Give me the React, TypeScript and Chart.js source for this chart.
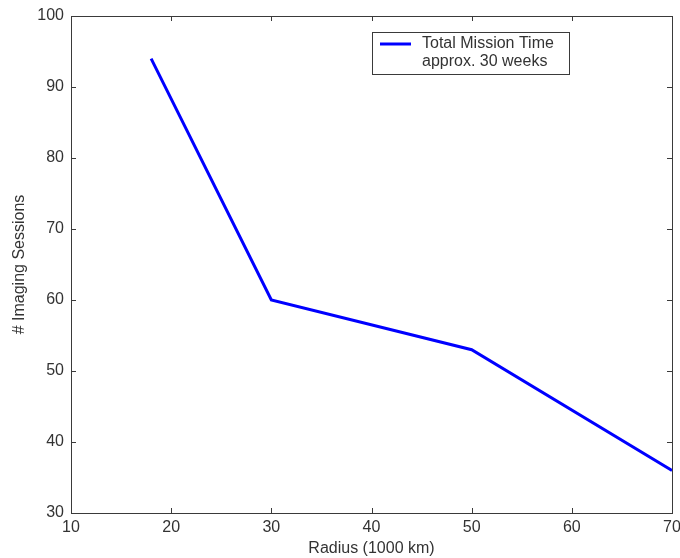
import React, { useEffect, useRef } from "react";
import { Chart, registerables } from "chart.js";

Chart.register(...registerables);

const radius = [18, 30, 50, 70];
const sessions = [94, 60, 53, 36];
const legendLines = ["Total Mission Time", "approx. 30 weeks"];
const xTitle = "Radius (1000 km)";
const yTitle = "# Imaging Sessions";

const FONT = "Arial, 'Liberation Sans', sans-serif";
const AXIS = "#3a3a3a";
const TEXT = "#333333";

const framePlugin = {
  id: "frame",
  afterDatasetsDraw(chart: any) {
    const { ctx, chartArea: a, scales } = chart;
    const tl = 5;
    ctx.save();
    ctx.strokeStyle = AXIS;
    ctx.lineWidth = 1;
    ctx.strokeRect(Math.round(a.left) + 0.5, Math.round(a.top) + 0.5, Math.round(a.right - a.left), Math.round(a.bottom - a.top));
    ctx.beginPath();
    scales.x.ticks.forEach((t: any) => {
      const px = Math.round(scales.x.getPixelForValue(t.value)) + 0.5;
      ctx.moveTo(px, a.bottom);
      ctx.lineTo(px, a.bottom - tl);
      ctx.moveTo(px, a.top);
      ctx.lineTo(px, a.top + tl);
    });
    scales.y.ticks.forEach((t: any) => {
      const py = Math.round(scales.y.getPixelForValue(t.value)) + 0.5;
      ctx.moveTo(a.left, py);
      ctx.lineTo(a.left + tl, py);
      ctx.moveTo(a.right, py);
      ctx.lineTo(a.right - tl, py);
    });
    ctx.stroke();
    ctx.restore();
  },
  afterDraw(chart: any) {
    const { ctx, chartArea: a } = chart;
    const bx = a.left + 301;
    const by = a.top + 16;
    const bw = 197;
    const bh = 42;
    ctx.save();
    ctx.fillStyle = "#ffffff";
    ctx.fillRect(bx, by, bw, bh);
    ctx.strokeStyle = AXIS;
    ctx.lineWidth = 1;
    ctx.strokeRect(Math.round(bx) + 0.5, Math.round(by) + 0.5, bw, bh);
    ctx.strokeStyle = "#0000ff";
    ctx.lineWidth = 3;
    ctx.beginPath();
    ctx.moveTo(bx + 8, by + 12);
    ctx.lineTo(bx + 39, by + 12);
    ctx.stroke();
    ctx.fillStyle = TEXT;
    ctx.font = `16px ${FONT}`;
    ctx.textBaseline = "middle";
    ctx.textAlign = "left";
    legendLines.forEach((s, i) => {
      ctx.fillText(s, bx + 50, by + 12 + i * 18);
    });
    ctx.restore();
  },
};

export default function App() {
  const ref = useRef<HTMLCanvasElement | null>(null);
  useEffect(() => {
    document.body.style.margin = "0";
    if (!ref.current) return;
    const chart = new Chart(ref.current, {
      type: "line",
      data: {
        datasets: [
          {
            label: legendLines.join(" "),
            data: radius.map((r, i) => ({ x: r, y: sessions[i] })),
            borderColor: "#0000ff",
            borderWidth: 3,
            pointRadius: 0,
            fill: false,
            tension: 0,
          },
        ],
      },
      options: {
        animation: false,
        responsive: false,
        layout: { padding: { top: 16, right: 8, bottom: 0, left: 0 } },
        plugins: { legend: { display: false }, tooltip: { enabled: false } },
        scales: {
          x: {
            type: "linear",
            min: 10,
            max: 70,
            grid: { display: false, drawTicks: false },
            border: { display: false },
            ticks: { stepSize: 10, color: TEXT, font: { family: FONT, size: 16 }, padding: 5, maxRotation: 0, autoSkip: false },
            title: { display: true, text: xTitle, color: TEXT, font: { family: FONT, size: 16, lineHeight: 1.2 }, padding: { top: 0, bottom: 0 } },
            afterFit: (s: any) => {
              s.height = 45;
              s.paddingLeft = 0;
              s.paddingRight = 0;
            },
          },
          y: {
            min: 30,
            max: 100,
            grid: { display: false, drawTicks: false },
            border: { display: false },
            ticks: { stepSize: 10, color: TEXT, font: { family: FONT, size: 16 }, padding: 7 },
            title: { display: true, text: yTitle, color: TEXT, font: { family: FONT, size: 16, lineHeight: 1.2 }, padding: { top: 10, bottom: 0 } },
            afterFit: (s: any) => {
              s.width = 71;
              s.paddingTop = 0;
              s.paddingBottom = 0;
            },
          },
        },
      },
      plugins: [framePlugin],
    });
    return () => chart.destroy();
  }, []);
  return (
    <div style={{ width: 680, height: 558, background: "#fff" }}>
      <canvas ref={ref} width={680} height={558} style={{ display: "block" }} />
    </div>
  );
}
